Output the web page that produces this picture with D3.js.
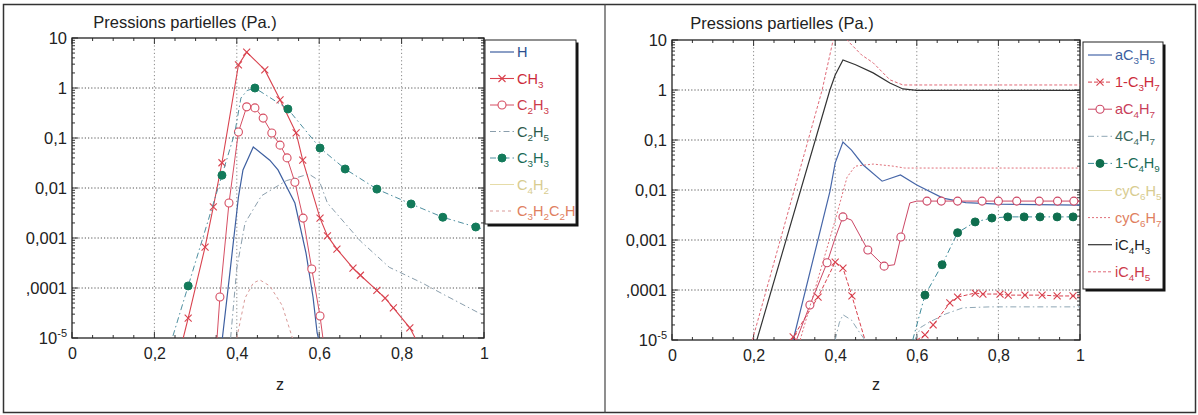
<!DOCTYPE html>
<html><head><meta charset="utf-8">
<script src="https://cdn.jsdelivr.net/npm/d3@7"></script>
<style>body{margin:0;background:#fff}svg{display:block;font-family:"Liberation Sans",Arial,sans-serif}</style>
</head><body><svg id="c" width="1198" height="415"></svg>
<script>
// ---------- axis data ----------
const xTicks=[0,0.2,0.4,0.6,0.8,1];
const xTickLabels=["0","0,2","0,4","0,6","0,8","1"];
const yTicks=[1e-5,1e-4,1e-3,1e-2,1e-1,1,10];
const yTickLabels=["10^-5",",0001","0,001","0,01","0,1","1","10"];
const titleText="Pressions partielles (Pa.)";
const xLabel="z";

// ---------- left panel series  [z, pressure Pa] ----------
const H=[[0.365,1e-5],[0.384,2.3e-4],[0.404,6.6e-3],[0.415,0.023],[0.44,0.066],[0.48,0.036],[0.5,0.023],[0.541,5e-3],[0.568,5e-4],[0.585,6.6e-5],[0.595,1.26e-5],[0.598,1e-5]];
const CH3=[[0.27,1e-5],[0.282,2.5e-5],[0.323,6.6e-4],[0.343,4.2e-3],[0.364,0.032],[0.404,2.9],[0.424,5.2],[0.468,2.3],[0.505,0.58],[0.544,0.126],[0.56,0.036],[0.602,2.5e-3],[0.62,1.1e-3],[0.643,6e-4],[0.682,2.5e-4],[0.70,1.8e-4],[0.74,9e-5],[0.76,6.3e-5],[0.78,4e-5],[0.82,1.6e-5],[0.833,1e-5]];
const C2H3=[[0.352,1e-5],[0.359,6.6e-5],[0.381,5e-3],[0.404,0.132],[0.424,0.42],[0.444,0.40],[0.464,0.25],[0.485,0.126],[0.505,0.072],[0.522,0.04],[0.541,0.013],[0.561,2.5e-3],[0.582,2.4e-4],[0.602,2.75e-5],[0.609,1e-5]];
const C2H5=[[0.385,1e-5],[0.40,2.5e-4],[0.42,2e-3],[0.46,7e-3],[0.52,0.014],[0.575,0.019],[0.60,0.014],[0.62,5e-3],[0.70,8.7e-4],[0.77,2.6e-4],[0.85,1.26e-4],[0.905,7.2e-5],[1.0,2.8e-5]];
const C3H3=[[0.245,1.1e-5],[0.282,1.1e-4],[0.364,0.018],[0.395,0.126],[0.41,0.63],[0.425,0.89],[0.444,1.0],[0.524,0.38],[0.602,0.063],[0.663,0.024],[0.74,9.5e-3],[0.823,4.8e-3],[0.9,2.6e-3],[0.98,1.66e-3],[1.0,1.5e-3]];
const C3H3marks=[[0.282,1.1e-4],[0.364,0.018],[0.444,1.0],[0.524,0.38],[0.602,0.063],[0.663,0.024],[0.74,9.5e-3],[0.823,4.8e-3],[0.9,2.6e-3],[0.98,1.66e-3]];
const C4H2=[];
const C3H2C2H=[[0.40,1e-5],[0.42,6.3e-5],[0.44,1.26e-4],[0.456,1.45e-4],[0.48,1.1e-4],[0.51,4.5e-5],[0.535,1e-5]];

// ---------- right panel series ----------
const aC3H5=[[0.297,1e-5],[0.387,9.3e-3],[0.40,0.035],[0.419,0.091],[0.44,0.063],[0.468,0.032],[0.515,0.015],[0.56,0.02],[0.6,0.0126],[0.664,6.9e-3],[0.72,5.6e-3],[0.8,5.2e-3],[1.0,5e-3]];
const C3H7_1=[[0.294,1e-5],[0.297,1.15e-5],[0.358,7.2e-5],[0.4,3.6e-4],[0.419,2.75e-4],[0.441,7.6e-5],[0.473,1e-5],null,[0.6,1e-5],[0.62,1.26e-5],[0.64,2e-5],[0.681,5.5e-5],[0.7,7.2e-5],[0.743,8.7e-5],[0.762,8.3e-5],[0.804,8.3e-5],[0.824,7.9e-5],[0.865,7.9e-5],[0.907,7.9e-5],[0.944,7.6e-5],[0.983,7.6e-5],[1.0,7.6e-5]];
const aC4H7=[[0.305,1e-5],[0.338,5e-5],[0.38,3.5e-4],[0.40,1.1e-3],[0.419,2.9e-3],[0.44,2.5e-3],[0.48,6.3e-4],[0.52,3e-4],[0.545,3.2e-4],[0.561,1.15e-3],[0.583,5.5e-3],[0.6,6e-3],[1.0,6e-3]];
const aC4H7marks=[[0.338,5e-5],[0.38,3.5e-4],[0.419,2.9e-3],[0.48,6.3e-4],[0.52,3e-4],[0.561,1.15e-3],[0.625,6e-3],[0.66,6e-3],[0.70,6e-3],[0.76,6e-3],[0.80,6e-3],[0.845,6e-3],[0.90,6e-3],[0.945,6e-3],[0.985,6e-3]];
const C4H7_4=[[0.40,1e-5],[0.41,2.2e-5],[0.419,3.2e-5],[0.44,2.5e-5],[0.46,1.4e-5],[0.473,1e-5],null,[0.595,1e-5],[0.61,1.8e-5],[0.632,2.3e-5],[0.67,3.3e-5],[0.713,4.4e-5],[0.78,4.6e-5],[1.0,4.6e-5]];
const C4H9_1=[[0.59,1e-5],[0.62,7.9e-5],[0.662,3.2e-4],[0.7,1.4e-3],[0.743,2.3e-3],[0.784,2.75e-3],[0.823,2.9e-3],[0.863,2.9e-3],[0.902,2.9e-3],[0.944,2.9e-3],[0.983,2.9e-3],[1.0,2.9e-3]];
const cyC6H5=[];
const cyC6H7=[[0.314,1e-5],[0.40,2.5e-3],[0.429,0.018],[0.449,0.03],[0.493,0.033],[0.542,0.03],[0.57,0.0275],[1.0,0.0275]];
const iC4H3=[[0.208,1e-5],[0.387,1.0],[0.40,2.0],[0.419,4.0],[0.45,3.2],[0.493,2.2],[0.534,1.38],[0.566,1.05],[0.6,0.98],[1.0,0.98]];
const iC4H5=[[0.197,1e-5],[0.368,1.0],[0.395,10],[0.415,14],[0.436,8.7],[0.465,5],[0.493,3.5],[0.534,1.6],[0.566,1.26],[0.6,1.26],[1.0,1.26]];

const interior=a=>a.filter(d=>d&&d[1]>1e-5&&d[0]<1);

const leftSeries=[
 {name:"H",data:H,color:"#3d5fa0",text:"#2d4f8f",dash:null,w:1.2},
 {name:"CH_3",data:CH3,color:"#d9434f",text:"#cc2b3a",dash:null,w:1.1,marker:"x",marks:interior(CH3)},
 {name:"C_2H_3",data:C2H3,color:"#d64f63",text:"#cc3a4a",dash:null,w:1,marker:"o",marks:interior(C2H3)},
 {name:"C_2H_5",data:C2H5,color:"#8a9eac",text:"#2d5a4a",dash:"6,3,1.5,3",w:1},
 {name:"C_3H_3",data:C3H3,color:"#4f8fa0",text:"#1a6a55",dash:"6,3,1.5,3",w:1,marker:"dot",mcolor:"#137a5a",marks:C3H3marks},
 {name:"C_4H_2",data:C4H2,color:"#e6dca8",text:"#d8cc90",dash:null,w:1},
 {name:"C_3H_2C_2H",data:C3H2C2H,color:"#d99a98",text:"#e08060",dash:"3,3",w:1}
];
const rightSeries=[
 {name:"aC_3H_5",data:aC3H5,color:"#4666a8",text:"#3d5fa0",dash:null,w:1.2},
 {name:"1-C_3H_7",data:C3H7_1,color:"#d8404d",text:"#cc2b3a",dash:"4,2",w:1,marker:"x",marks:interior(C3H7_1)},
 {name:"aC_4H_7",data:aC4H7,color:"#cc4765",text:"#c8405a",dash:null,w:1,marker:"o",marks:aC4H7marks},
 {name:"4C_4H_7",data:C4H7_4,color:"#8fa7b5",text:"#3d6a60",dash:"6,3,1.5,3",w:1},
 {name:"1-C_4H_9",data:C4H9_1,color:"#3d8a9a",text:"#1a6a55",dash:"6,3,1.5,3",w:1,marker:"dot",mcolor:"#0f6e4e",marks:interior(C4H9_1)},
 {name:"cyC_6H_5",data:cyC6H5,color:"#e2d9a0",text:"#d8cc90",dash:null,w:1},
 {name:"cyC_6H_7",data:cyC6H7,color:"#e0707a",text:"#e08060",dash:"2,2",w:1},
 {name:"iC_4H_3",data:iC4H3,color:"#333",text:"#222",dash:null,w:1.2},
 {name:"iC_4H_5",data:iC4H5,color:"#e06a78",text:"#cc3a4a",dash:"3,2",w:1}
];

const svg=d3.select("#c");
// outer frames
svg.append("rect").attr("x",3.5).attr("y",4.5).attr("width",1192).attr("height",408).attr("fill","none").attr("stroke","#333").attr("stroke-width",1.5);
svg.append("line").attr("x1",605).attr("x2",605).attr("y1",4).attr("y2",413).attr("stroke","#444").attr("stroke-width",1.2);

function richText(sel,str,fs){
  const parts=str.split(/(_\d)/).filter(s=>s.length);
  let sub=false;
  parts.forEach(p=>{
    if(p[0]==="_"){sel.append("tspan").attr("dy",sub?0:4).attr("font-size",fs*0.68).text(p.slice(1));sub=true;}
    else{sel.append("tspan").attr("dy",sub?-4:0).text(p);sub=false;}
  });
}

function marker(g,type,cx,cy,color,fill){
  if(type==="x"){
    g.append("path").attr("d",`M${cx-3.5},${cy-3.5}L${cx+3.5},${cy+3.5}M${cx-3.5},${cy+3.5}L${cx+3.5},${cy-3.5}`).attr("stroke",color).attr("stroke-width",1.1);
  }else if(type==="o"){
    g.append("circle").attr("cx",cx).attr("cy",cy).attr("r",4).attr("fill","#fff").attr("stroke",color).attr("stroke-width",1.1);
  }else if(type==="dot"){
    g.append("circle").attr("cx",cx).attr("cy",cy).attr("r",4).attr("fill",fill).attr("stroke",fill);
  }
}

function panel(cfg){
  const g=svg.append("g");
  const x=d3.scaleLinear().domain([0,1]).range([cfg.x0,cfg.x1]);
  const y=d3.scaleLog().domain([1e-5,10]).range([cfg.y1,cfg.y0]);
  const cid="clip"+cfg.id;
  svg.append("clipPath").attr("id",cid).append("rect").attr("x",cfg.x0).attr("y",cfg.y0).attr("width",cfg.x1-cfg.x0).attr("height",cfg.y1-cfg.y0);
  // grid
  g.selectAll(null).data(yTicks.slice(1,-1)).join("line").attr("x1",cfg.x0).attr("x2",cfg.x1).attr("y1",d=>y(d)).attr("y2",d=>y(d)).attr("stroke","#555").attr("stroke-width",1).attr("stroke-dasharray","1.2,2");
  g.selectAll(null).data(xTicks.slice(1,-1)).join("line").attr("y1",cfg.y0).attr("y2",cfg.y1).attr("x1",d=>x(d)).attr("x2",d=>x(d)).attr("stroke","#888").attr("stroke-width",1).attr("stroke-dasharray","1.2,2.5");
  // minor ticks
  const minorY=[];
  for(let k=-5;k<1;k++) for(let m=2;m<10;m++) minorY.push(m*Math.pow(10,k));
  const tk=g.append("g").attr("stroke","#333").attr("stroke-width",1);
  minorY.forEach(v=>{
    tk.append("line").attr("x1",cfg.x0).attr("x2",cfg.x0+3).attr("y1",y(v)).attr("y2",y(v));
    tk.append("line").attr("x1",cfg.x1).attr("x2",cfg.x1-3).attr("y1",y(v)).attr("y2",y(v));
  });
  yTicks.forEach(v=>{
    tk.append("line").attr("x1",cfg.x0).attr("x2",cfg.x0+6).attr("y1",y(v)).attr("y2",y(v));
    tk.append("line").attr("x1",cfg.x1).attr("x2",cfg.x1-6).attr("y1",y(v)).attr("y2",y(v));
  });
  d3.range(0,1.0001,0.05).forEach(v=>{
    const L=(Math.round(v*100)%20===0)?6:3;
    tk.append("line").attr("x1",x(v)).attr("x2",x(v)).attr("y1",cfg.y1).attr("y2",cfg.y1-L);
    tk.append("line").attr("x1",x(v)).attr("x2",x(v)).attr("y1",cfg.y0).attr("y2",cfg.y0+L);
  });
  // axes labels via d3 axes
  const ay=g.append("g").attr("transform",`translate(${cfg.x0},0)`)
    .call(d3.axisLeft(y).tickValues(yTicks).tickFormat((d,i)=>yTickLabels[i]).tickSize(0).tickPadding(5));
  ay.select(".domain").remove();
  ay.selectAll("text").attr("font-size",16.5).attr("fill","#222").attr("font-family","Liberation Sans, Arial, sans-serif");
  ay.selectAll("text").each(function(d,i){
    const s=yTickLabels[i];
    if(s.includes("^")){
      const [b,e]=s.split("^");const t=d3.select(this);t.text(null);
      t.append("tspan").text(b);
      t.append("tspan").attr("dy",-7).attr("font-size",11).text(e);
    }
  });
  const ax=g.append("g").attr("transform",`translate(0,${cfg.y1})`)
    .call(d3.axisBottom(x).tickValues(xTicks).tickFormat((d,i)=>xTickLabels[i]).tickSize(0).tickPadding(10));
  ax.select(".domain").remove();
  ax.selectAll("text").attr("font-size",16).attr("fill","#222").attr("font-family","Liberation Sans, Arial, sans-serif");
  // frame
  g.append("rect").attr("x",cfg.x0).attr("y",cfg.y0).attr("width",cfg.x1-cfg.x0).attr("height",cfg.y1-cfg.y0).attr("fill","none").attr("stroke","#222").attr("stroke-width",1.3);
  // title + z
  g.append("text").attr("x",cfg.tx).attr("y",cfg.ty).attr("text-anchor","middle").attr("font-size",16.5).attr("fill","#222").text(titleText);
  g.append("text").attr("x",cfg.zx).attr("y",390).attr("text-anchor","middle").attr("font-size",16).attr("fill","#222").text(xLabel);
  // curves
  const line=d3.line().defined(d=>d!=null).x(d=>x(d[0])).y(d=>y(d[1]));
  const cg=g.append("g").attr("clip-path",`url(#${cid})`);
  cfg.series.forEach(s=>{
    if(!s.data.length) return;
    cg.append("path").attr("d",line(s.data)).attr("fill","none").attr("stroke",s.color).attr("stroke-width",s.w).attr("stroke-dasharray",s.dash);
    if(s.marker) s.marks.forEach(d=>marker(cg,s.marker,x(d[0]),y(d[1]),s.color,s.mcolor));
  });
  // legend
  const L=cfg.leg;
  const lg=g.append("g");
  lg.append("rect").attr("x",L.x+2.5).attr("y",L.y+2.5).attr("width",L.w).attr("height",L.h).attr("fill","#111");
  lg.append("rect").attr("x",L.x).attr("y",L.y).attr("width",L.w).attr("height",L.h).attr("fill","#fff").attr("stroke","#222").attr("stroke-width",1);
  cfg.series.forEach((s,i)=>{
    const yy=L.y0+i*L.dy;
    lg.append("line").attr("x1",L.sx0).attr("x2",L.sx1).attr("y1",yy).attr("y2",yy).attr("stroke",s.color).attr("stroke-width",s.w).attr("stroke-dasharray",s.dash);
    if(s.marker) marker(lg,s.marker,(L.sx0+L.sx1)/2,yy,s.color,s.mcolor);
    const t=lg.append("text").attr("x",L.tx).attr("y",yy+5).attr("font-size",14.5).attr("fill",s.text);
    richText(t,s.name,14.5);
  });
}

panel({id:"L",x0:72,x1:484,y0:38,y1:338,tx:185,ty:28,zx:280,series:leftSeries,
  leg:{x:485,y:40,w:91,h:184,y0:52,dy:26.5,sx0:490,sx1:514,tx:517}});
panel({id:"R",x0:672,x1:1080,y0:40,y1:340,tx:782,ty:29,zx:876,series:rightSeries,
  leg:{x:1083,y:42,w:80,h:247,y0:55,dy:27.1,sx0:1088,sx1:1112,tx:1115}});
</script></body></html>
